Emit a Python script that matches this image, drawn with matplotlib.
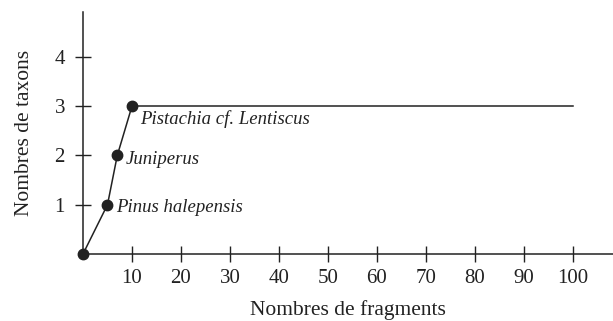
import matplotlib
matplotlib.use("Agg")
import matplotlib.pyplot as plt

# data
fragments = [0, 5, 7, 10]
taxons = [0, 1, 2, 3]
plateau_x = [10, 100]
plateau_y = [3, 3]
labels = ["Pinus halepensis", "Juniperus", "Pistachia cf. Lentiscus"]
label_pts = [(5, 1), (7, 2), (10, 3)]
xticks = [10, 20, 30, 40, 50, 60, 70, 80, 90, 100]
yticks = [1, 2, 3, 4]

plt.rcParams['font.family'] = ['Liberation Serif', 'DejaVu Serif']
ink = '#222222'

fig = plt.figure(figsize=(6.13, 3.21), dpi=100)
ax = fig.add_axes([83 / 613, 67 / 321, 530 / 613, 242 / 321])

ax.plot(plateau_x, plateau_y, color=ink, linewidth=1.1)
ax.plot(fragments, taxons, color=ink, linewidth=1.1, marker='o',
        markersize=7.5, clip_on=False, zorder=5)

# labels next to the points
offsets = [(6, -2), (6, -3), (6, -9)]
for txt, (px, py), (dx, dy) in zip(labels, label_pts, offsets):
    ax.annotate(txt, (px, py), xytext=(dx, dy), textcoords='offset points',
                ha='left', va='center', fontsize=13.5, style='italic', color=ink)

ax.set_xlim(0, 108.2)
ax.set_ylim(0, 4.91)
ax.set_xticks(xticks)
ax.set_yticks(yticks)
ax.tick_params(direction='inout', length=12, width=1, color=ink,
               labelsize=15, labelcolor=ink)
ax.tick_params(axis='x', pad=5)
ax.tick_params(axis='y', pad=7)

for side in ['top', 'right']:
    ax.spines[side].set_visible(False)
for side in ['left', 'bottom']:
    ax.spines[side].set_color(ink)
    ax.spines[side].set_linewidth(1.1)

ax.set_xlabel("Nombres de fragments", fontsize=15.5, color=ink, labelpad=8.5)
ax.set_ylabel("Nombres de taxons", fontsize=15.5, color=ink, labelpad=15)

fig.savefig("out.png", dpi=100)
